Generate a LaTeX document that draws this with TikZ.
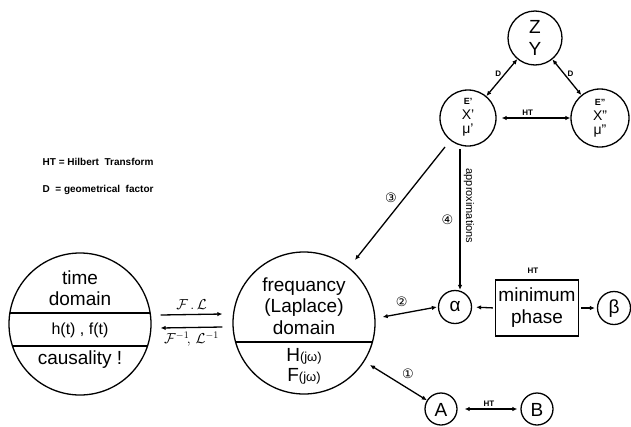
\documentclass[tikz,border=0pt]{standalone}
\usepackage{fontspec}
\setmainfont{Liberation Sans}
\newfontfamily\dv{DejaVu Sans}
\usetikzlibrary{arrows.meta,calc}
\begin{document}
\begin{tikzpicture}[x=1pt,y=-1pt, line width=1.3pt,
  tip/.style={-{Latex[length=5pt,width=4.5pt]}},
  dtip/.style={{Latex[length=5pt,width=4.5pt]}-{Latex[length=5pt,width=4.5pt]}},
  big/.style={font=\fontsize{19}{22}\selectfont, inner sep=0pt},
  mid/.style={font=\fontsize{16}{18}\selectfont, inner sep=0pt},
  sml/.style={font=\fontsize{14}{14}\selectfont, inner sep=0pt},
  tiny/.style={font=\fontsize{9}{9}\selectfont\bfseries, inner sep=0pt},
  lbl/.style={font=\fontsize{8}{9}\selectfont\bfseries, inner sep=1pt},
  leg/.style={font=\fontsize{10}{12}\selectfont\bfseries, inner sep=0pt, anchor=west},
  num/.style={font=\dv\fontsize{13}{13}\selectfont, inner sep=0pt},
  tr/.style={font=\fontsize{14}{14}\selectfont, inner sep=0pt},
  circ/.style={draw, circle, inner sep=0pt},
]
\useasboundingbox (0,0) rectangle (631,426);

% legend
\node[leg] (leg1) at (42,162) {HT = Hilbert \ Transform};
\node[leg] (leg2) at (42,190) {D \ = geometrical \ factor};

% time domain circle
\node[circ, minimum size=142pt] (time) at (80,324) {};
\begin{scope}
  \clip (80,324) circle (71);
  \draw[line width=1.8pt] (0,313) -- (160,313);
  \draw[line width=1.8pt] (0,346) -- (160,346);
\end{scope}
\node[big] (t1) at (80,278) {time};
\node[big] (t2) at (80,299) {domain};
\node[mid] (t3) at (80,330) {h(t) , f(t)};
\node[big] (t4) at (80,360) {causality !};

% frequency circle
\node[circ, minimum size=142pt] (freq) at (304,323) {};
\begin{scope}
  \clip (304,323) circle (71);
  \draw[line width=1.8pt] (220,342) -- (390,342);
\end{scope}
\node[big] (f1) at (304,287) {frequancy};
\node[big] (f2) at (304,308) {(Laplace)};
\node[big] (f3) at (304,328) {domain};
\node[big] (f4) at (304,356) {H{\fontsize{13}{13}\selectfont(jω)}};
\node[big] (f5) at (304,376) {F{\fontsize{13}{13}\selectfont(jω)}};

% transforms between time and frequency
\draw[tip] ($(time.east)+(9,-9)$) -- node[tr, above=4pt] {$\mathcal{F}\,.\,\mathcal{L}$} ($(freq.west)+(-10,-9)$);
\draw[tip] ($(freq.west)+(-10,4)$) -- node[tr, below=4pt] {$\mathcal{F}^{-1}\!,\,\mathcal{L}^{-1}$} ($(time.east)+(9,4)$);

% Z Y circle and E', E''
\node[circ, minimum size=54pt] (Z) at (535,38) {};
\node[big] (zz) at (535,27) {Z};
\node[big] (yy) at (535,49) {Y};
\node[circ, minimum size=56pt] (Ep) at (468,118) {};
\node[tiny] (e1) at (468,101) {E’};
\node[sml] (e2) at (468,115) {X’};
\node[sml] (e3) at (468,130) {μ’};
\node[circ, minimum size=58pt] (Epp) at (600,118) {};
\node[tiny] (g1) at (600,102) {E”};
\node[sml] (g2) at (600,116) {X”};
\node[sml] (g3) at (600,131) {μ”};

\draw[dtip] (Ep) -- node[lbl, pos=0.6, left=2pt] {D} (Z);
\draw[dtip] (Z) -- node[lbl, pos=0.4, right=2pt] {D} (Epp);
\draw[dtip, shorten <=5pt] (Ep) -- node[lbl, pos=0.42, above=1pt] {HT} (Epp);

% alpha, box, beta
\node[circ, minimum size=33pt] (alpha) at (455,307) {};
\node[big] (al) at (455,306) {α};
\node[draw, big, align=center, minimum width=83pt, minimum height=56pt] (mp) at (537,308) {minimum\\phase};
\node[lbl] (mpl) at (533,271) {HT};
\node[circ, minimum size=33pt] (beta) at (614,308) {};
\node[big] (be) at (614,309) {β};
\draw[tip, shorten <=2pt, shorten >=4pt] (mp.west) -- (alpha.east);
\draw[tip, shorten <=2pt, shorten >=2pt] (mp.east) -- (beta.west);

% A, B
\node[circ, minimum size=32pt] (A) at (441,409) {};
\node[big] (aa) at (441,410) {A};
\node[circ, minimum size=32pt] (B) at (537,409) {};
\node[big] (bb) at (537,410) {B};
\draw[dtip, shorten <=7pt, shorten >=3pt] (A) -- node[lbl, above=1pt] {HT} (B);

% numbered connections
\coordinate (s3) at ($(Ep.center)+(-23,29)$);
\draw[tip] (s3) -- node[num, pos=0.45, left=7pt] {③} ($(freq.center)+(51,-63)$);
\coordinate (s4) at ($(Ep.center)+(-8,31)$);
\draw[tip] (s4) -- node[num, pos=0.5, left=6pt] {④} (s4 |- alpha.north);
\node[font=\fontsize{11}{11}\selectfont, rotate=-90, inner sep=0pt] (apx) at (469,206) {approximations};
\draw[dtip] ($(freq.east)+(7,-6)$) -- node[num, above=6pt, pos=0.35] {②} ([xshift=-1pt]alpha.west);
\draw[dtip] ($(freq.center)+(66,42)$) -- node[num, above right=3pt, pos=0.5] {①} (A);
\end{tikzpicture}
\end{document}
